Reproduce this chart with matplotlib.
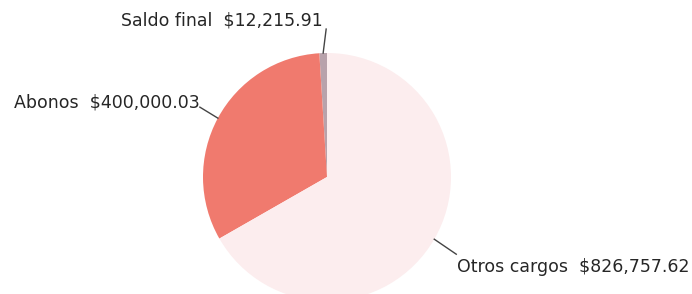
import numpy as np
import matplotlib
matplotlib.use("Agg")
import matplotlib.pyplot as plt

# slices, counter-clockwise from the top
labels = ['Saldo final', 'Abonos', 'Otros cargos']
values = [12215.91, 400000.03, 826757.62]
amounts = ['$12,215.91', '$400,000.03', '$826,757.62']
colors = ['#b8a2ab', '#f07a6e', '#fcedee']

W, H = 692, 294
fig = plt.figure(figsize=(W / 100, H / 100), dpi=100)
ax = fig.add_axes([0, 0, 1, 1])

cx, cy, r = 327, H - 177, 124
wedges, _ = ax.pie(values, colors=colors, startangle=90, counterclock=True,
                   center=(cx, cy), radius=r, frame=True,
                   wedgeprops=dict(linewidth=0))
ax.set_xlim(0, W)
ax.set_ylim(0, H)
ax.set_aspect('equal')
ax.axis('off')

font = dict(family=['DejaVu Sans'], fontsize=12.5, color='#262626')

# leader lines: start on the wedge edge at its mid angle, go outward
leaders = [(3, 24), (-18, 11), (22, -15)]

for w, lab, amt, (dx, dy) in zip(wedges, labels, amounts, leaders):
    ang = np.deg2rad((w.theta1 + w.theta2) / 2)
    x0 = cx + r * np.cos(ang)
    y0 = cy + r * np.sin(ang)
    x1, y1 = x0 + dx, y0 + dy
    ax.plot([x0, x1], [y0, y1], color='#444444', lw=1)
    txt = lab + '  ' + amt
    if lab == 'Saldo final':
        ax.text(x1 - 3, y1 + 9, txt, ha='right', va='center', **font)
    elif lab == 'Abonos':
        ax.text(x1, y1 + 5, txt, ha='right', va='center', **font)
    else:
        ax.text(x1 + 1, y1 - 13, txt, ha='left', va='center', **font)

fig.savefig('out.png', dpi=100)
